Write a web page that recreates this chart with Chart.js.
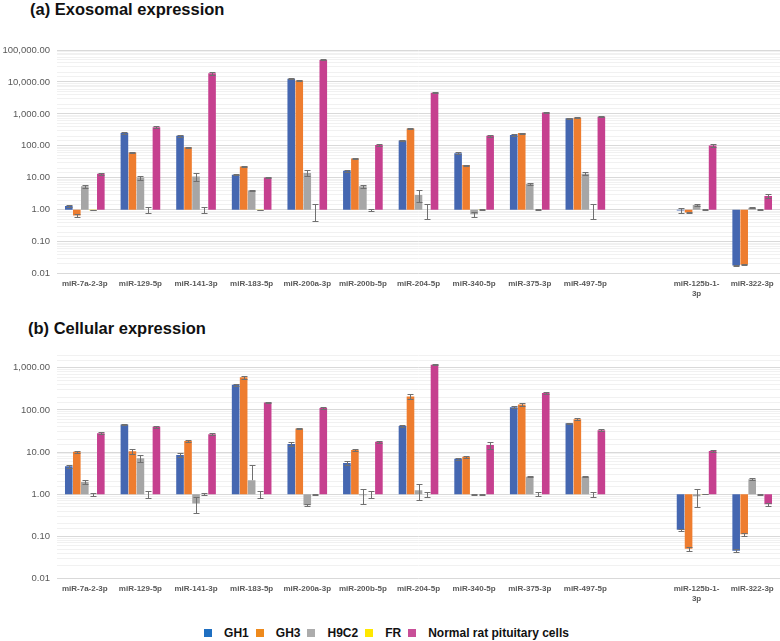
<!DOCTYPE html>
<html>
<head>
<meta charset="utf-8">
<script src="https://cdn.jsdelivr.net/npm/chart.js@4.4.1/dist/chart.umd.min.js"></script>
<style>
    body { margin: 0; background: #fff; font-family: "Liberation Sans", Arial, sans-serif; }
    #page { position: relative; width: 780px; height: 641px; overflow: hidden; }
    .ttl { position: absolute; font-weight: bold; font-size: 16.5px; color: #111; line-height: 1; }
    .panel { position: absolute; left: 0; }
    #legend { position: absolute; top: 626px; left: 0; width: 780px; display: flex; justify-content: center; align-items: center; font-weight: bold; font-size: 12px; color: #111; }
    #legend .sw { width: 8px; height: 8px; margin-right: 12px; }
    #legend .lb { margin-right: 7px; }
</style>
</head>
<body>
<div id="page">
    <div class="ttl" style="left:30px;top:1px;">(a) Exosomal expression</div>
    <div class="panel" style="top:20px;"><canvas id="exo-chart" width="780" height="294"></canvas></div>
    <div class="ttl" style="left:28px;top:320px;">(b) Cellular expression</div>
    <div class="panel" style="top:335px;"><canvas id="cell-chart" width="780" height="279"></canvas></div>
    <div id="legend"></div>
</div>
<script>
// data
var categories = ['miR-7a-2-3p', 'miR-129-5p', 'miR-141-3p', 'miR-183-5p', 'miR-200a-3p', 'miR-200b-5p',
    'miR-204-5p', 'miR-340-5p', 'miR-375-3p', 'miR-497-5p', '', ['miR-125b-1-', '3p'], 'miR-322-3p'];
var seriesNames = ['GH1', 'GH3', 'H9C2', 'FR', 'Normal rat pituitary cells'];
var seriesColors = ['#4567b1', '#ee7d2f', '#a6a6a6', '#ffe600', '#c6408f'];
var legendColors = ['#1f6fc1', '#ee8a1c', '#acacac', '#ffe800', '#c84f98'];

// (a) exosomal
var exoGH1 = [1.3, 250, 205, 12.4, 12500, 16.5, 146, 59, 220, 735, null, 0.95, 0.018];
var exoGH1Err = [0.1, 15, 15, 0.6, 500, 0.8, 8, 3, 10, 30, null, 0.18, 0.001];
var exoGH3 = [0.66, 62, 90, 22.5, 11000, 40, 347, 25, 250, 760, null, 0.82, 0.019];
var exoGH3Err = [0.06, 3, 4, 1, 500, 2, 15, 1, 10, 30, null, 0.04, 0.001];
var exoH9C2 = [5.4, 10.2, 11, 4, 14, 5.4, 2.9, 0.72, 6.5, 13.3, null, 1.4, 1.15];
var exoH9C2Err = [0.5, 1.5, 3, 0.2, 3, 0.6, 1.1, 0.12, 0.4, 1.5, null, 0.06, 0.04];
var exoFR = [0.97, 1, 1, 0.98, 1, 1, 1, 1.02, 1, 1, null, 1, 1];
var exoFRErr = [0.02, 0.2, 0.2, 0.03, 0.55, 0.06, 0.47, 0.02, 0.03, 0.5, null, 0.03, 0.04];
var exoNormal = [13.3, 385, 18700, 10.2, 49000, 106, 4600, 205, 1100, 820, null, 102, 2.7];
var exoNormalErr = [0.7, 20, 1800, 0.4, 2000, 5, 200, 10, 50, 40, null, 10, 0.3];

// (b) cellular
var celGH1 = [4.6, 45, 8.5, 395, 15.5, 5.5, 41.5, 6.9, 116, 48, null, 0.144, 0.046];
var celGH1Err = [0.4, 2, 0.8, 25, 1.5, 0.5, 2, 0.4, 6, 2, null, 0.01, 0.003];
var celGH3 = [10.2, 10.4, 18.3, 590, 36, 11.2, 207, 7.75, 134, 60, null, 0.051, 0.112];
var celGH3Err = [0.6, 1.2, 0.6, 50, 1.5, 0.5, 25, 0.5, 8, 4, null, 0.006, 0.01];
var celH9C2 = [1.96, 7.1, 0.6, 2.15, 0.55, 0.95, 1.25, 0.98, 2.6, 2.6, null, 0.9, 2.28];
var celH9C2Err = [0.25, 1.3, 0.25, 2.7, 0.03, 0.35, 0.5, 0.01, 0.1, 0.1, null, 0.4, 0.1];
var celFR = [1, 1, 1, 1, 1, 1, 1, 1, 1, 1, null, 1.02, 1];
var celFRErr = [0.08, 0.18, 0.05, 0.2, 0.04, 0.17, 0.12, 0.02, 0.1, 0.12, null, 0.02, 0.02];
var celNormal = [28, 40, 26.5, 150, 111, 17.6, 1180, 14.7, 250, 33, null, 10.6, 0.58];
var celNormalErr = [1.5, 2, 1.5, 6, 5, 1, 50, 3, 15, 2, null, 0.5, 0.04];

var exoAxisMin = 0.01, exoAxisMax = 100000;
var celAxisMin = 0.01, celAxisMax = 2000;

var fontFamily = '"Liberation Sans", Arial, sans-serif';

function isDecade(v) {
    var l = Math.log10(v);
    return Math.abs(l - Math.round(l)) < 1e-9;
}

// draws the +/- SD whiskers on top of each bar
var errorBarPlugin = {
    id: 'errorBars',
    afterDatasetsDraw: function (chart) {
        var ctx = chart.ctx;
        var yScale = chart.scales.y;
        ctx.save();
        ctx.strokeStyle = '#707070';
        ctx.lineWidth = 1;
        chart.data.datasets.forEach(function (ds, di) {
            var meta = chart.getDatasetMeta(di);
            meta.data.forEach(function (bar, i) {
                var v = ds.values[i];
                var e = ds.errors[i];
                if (v == null || e == null) return;
                var x = Math.round(bar.x) + 0.5;
                var yHi = Math.round(yScale.getPixelForValue(v + e)) + 0.5;
                var lo = v - e;
                ctx.beginPath();
                ctx.moveTo(x - 3, yHi); ctx.lineTo(x + 3, yHi);
                if (lo > 0) {
                    // log axis: lower whisker only when it stays positive
                    var yLo = Math.round(yScale.getPixelForValue(lo)) + 0.5;
                    ctx.moveTo(x, yHi); ctx.lineTo(x, yLo);
                    ctx.moveTo(x - 3, yLo); ctx.lineTo(x + 3, yLo);
                } else {
                    ctx.moveTo(x, yHi); ctx.lineTo(x, yScale.getPixelForValue(v));
                }
                ctx.stroke();
            });
        });
        ctx.restore();
    }
};

function MakeDatasets(valueLists, errorLists) {
    var sets = [];
    for (var s = 0; s < seriesNames.length; s++) {
        var vals = valueLists[s];
        sets.push({
            label: seriesNames[s],
            data: vals.map(function (v) { return v == null ? null : [1, v]; }),
            values: vals,
            errors: errorLists[s],
            backgroundColor: seriesColors[s],
            borderWidth: 0,
            categoryPercentage: 0.72,
            barPercentage: 0.95
        });
    }
    return sets;
}

function BuildChart(canvasId, valueLists, errorLists, yMin, yMax, pad) {
    return new Chart(document.getElementById(canvasId), {
        type: 'bar',
        data: { labels: categories, datasets: MakeDatasets(valueLists, errorLists) },
        plugins: [errorBarPlugin],
        options: {
            responsive: false,
            animation: false,
            layout: { padding: pad },
            plugins: { legend: { display: false }, tooltip: { enabled: false } },
            scales: {
                x: {
                    grid: { display: false, drawTicks: false },
                    border: { display: false },
                    ticks: {
                        autoSkip: false, maxRotation: 0, padding: 6, color: '#595959',
                        font: { family: fontFamily, size: 8, weight: 'bold', lineHeight: 1.15 }
                    }
                },
                y: {
                    type: 'logarithmic',
                    min: yMin,
                    max: yMax,
                    border: { display: false },
                    grid: {
                        drawTicks: false,
                        color: function (c) {
                            return c.tick && isDecade(c.tick.value) ? '#d9d9d9' : '#f1f1f1';
                        }
                    },
                    ticks: {
                        autoSkip: false, padding: 7, color: '#595959',
                        font: { family: fontFamily, size: 9.5 },
                        callback: function (v) {
                            if (!isDecade(v)) return '';
                            return Number(v).toLocaleString('en-US', { minimumFractionDigits: 2, maximumFractionDigits: 2 });
                        }
                    },
                    afterFit: function (scale) { scale.width = 57; }
                }
            }
        }
    });
}

function BuildLegend() {
    var el = document.getElementById('legend');
    for (var i = 0; i < seriesNames.length; i++) {
        var sw = document.createElement('span');
        sw.className = 'sw';
        sw.style.background = legendColors[i];
        var lb = document.createElement('span');
        lb.className = 'lb';
        lb.textContent = seriesNames[i];
        el.appendChild(sw);
        el.appendChild(lb);
    }
}

BuildChart('exo-chart',
    [exoGH1, exoGH3, exoH9C2, exoFR, exoNormal],
    [exoGH1Err, exoGH3Err, exoH9C2Err, exoFRErr, exoNormalErr],
    exoAxisMin, exoAxisMax, { top: 30, bottom: 10, left: 0, right: 0 });

BuildChart('cell-chart',
    [celGH1, celGH3, celH9C2, celFR, celNormal],
    [celGH1Err, celGH3Err, celH9C2Err, celFRErr, celNormalErr],
    celAxisMin, celAxisMax, { top: 20, bottom: 5, left: 0, right: 0 });

BuildLegend();
</script>
</body>
</html>
